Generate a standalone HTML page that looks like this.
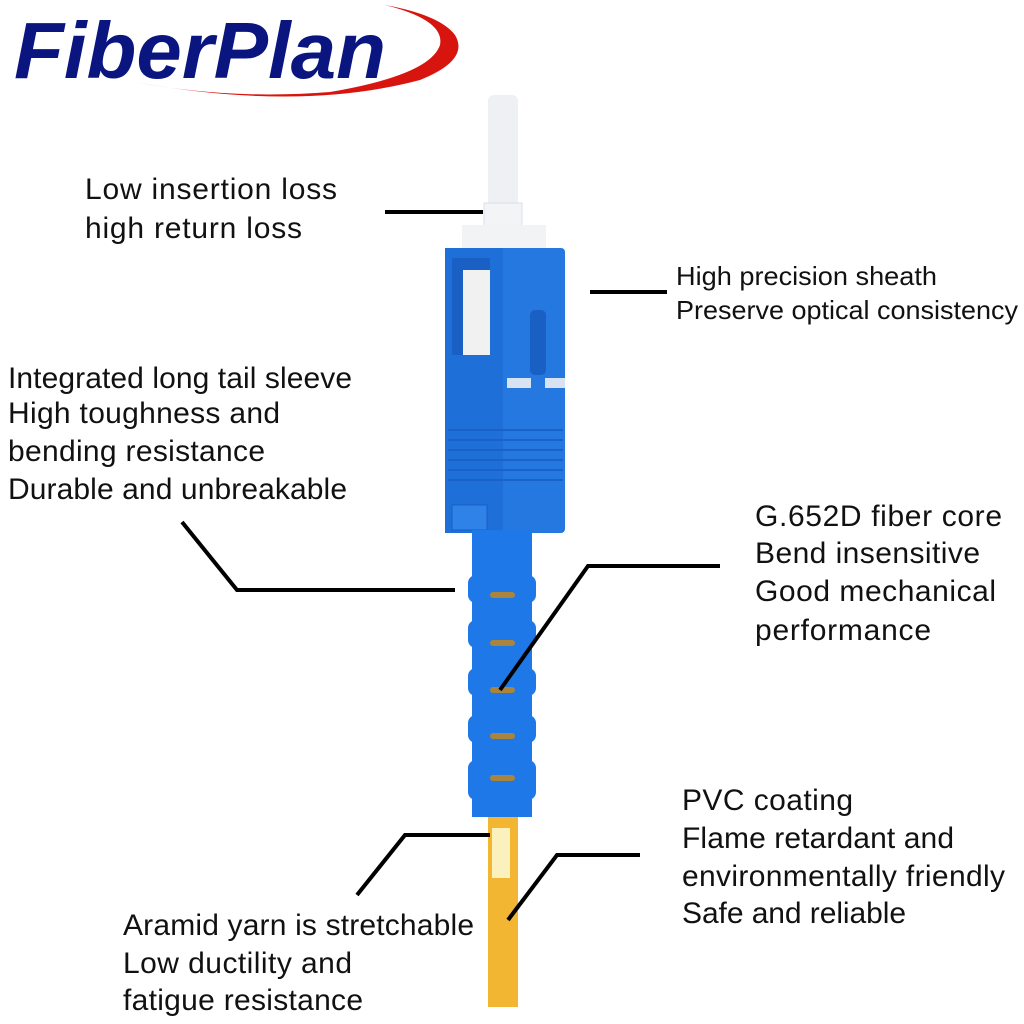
<!DOCTYPE html>
<html><head><style>
body{margin:0;background:#fff;}
svg{display:block}
text{font-family:"Liberation Sans",sans-serif;fill:#111;}
</style></head><body>
<svg width="1024" height="1024" viewBox="0 0 1024 1024" xmlns="http://www.w3.org/2000/svg">
<rect width="1024" height="1024" fill="#fff"/>
<path d="M135 82 Q300 112 420 80 Q470 60 455 35 Q440 15 385 5 Q445 20 440 45 Q430 75 330 92 Q230 100 135 82Z" fill="#d8140f"/>
<text x="14" y="78" font-size="80" font-weight="bold" font-style="italic" style="fill:#0b1580" textLength="372" lengthAdjust="spacingAndGlyphs">FiberPlan</text>
<rect x="488" y="95" width="30" height="115" rx="6" fill="#eef0f3"/>
<rect x="484" y="203" width="38" height="26" fill="#f3f4f6" stroke="#dde" />
<rect x="462" y="225" width="84" height="26" fill="#f2f3f5"/>
<rect x="445" y="248" width="120" height="285" rx="4" fill="#2478e0"/>
<rect x="445" y="248" width="58" height="285" fill="#1f6fd8"/>
<path d="M452 258 L490 258 L490 355 L452 355Z" fill="#1a5fc4"/>
<rect x="463" y="270" width="27" height="85" fill="#f1f1f1"/>
<rect x="530" y="310" width="16" height="65" rx="5" fill="#1a5fc4"/>
<rect x="507" y="378" width="24" height="10" fill="#d7e3f2"/>
<rect x="545" y="378" width="20" height="10" fill="#d7e3f2"/>
<g stroke="#1a62c8" stroke-width="2">
<line x1="448" y1="430" x2="563" y2="430"/><line x1="448" y1="440" x2="563" y2="440"/>
<line x1="448" y1="450" x2="563" y2="450"/><line x1="448" y1="460" x2="563" y2="460"/>
<line x1="448" y1="470" x2="563" y2="470"/><line x1="448" y1="480" x2="563" y2="480"/>
</g>
<rect x="452" y="505" width="35" height="25" fill="#2e82e8" stroke="#1a5fc4"/>
<path d="M472 530 H532 V817 H472Z" fill="#1f78e8"/>
<g fill="#1f78e8">
<rect x="468" y="575" width="68" height="28" rx="8"/><rect x="468" y="620" width="68" height="28" rx="8"/>
<rect x="468" y="668" width="68" height="28" rx="8"/><rect x="468" y="715" width="68" height="28" rx="8"/>
<rect x="468" y="760" width="68" height="40" rx="8"/>
</g>
<g fill="#a8843c">
<rect x="490" y="592" width="25" height="6" rx="3"/><rect x="490" y="640" width="25" height="6" rx="3"/>
<rect x="490" y="687" width="25" height="6" rx="3"/><rect x="490" y="733" width="25" height="6" rx="3"/>
<rect x="490" y="775" width="25" height="6" rx="3"/>
</g>
<rect x="488" y="817" width="30" height="190" fill="#f2b632"/>
<rect x="492" y="828" width="18" height="50" fill="#fbf1bd"/>
<g stroke="#000" stroke-width="4" fill="none">
<line x1="385" y1="212" x2="483" y2="212"/>
<line x1="590" y1="292" x2="667" y2="292"/>
<polyline points="182,522 237,590 455,590"/>
<polyline points="720,566 588,566 500,690"/>
<polyline points="357,895 405,835 490,835"/>
<polyline points="640,855 557,855 508,920"/>
</g>
<g font-size="30" lengthAdjust="spacingAndGlyphs">
<text x="85" y="199" textLength="252">Low insertion loss</text>
<text x="85" y="238" textLength="217">high return loss</text>
<text x="8" y="388" textLength="344">Integrated long tail sleeve</text>
<text x="8" y="423" textLength="272">High toughness and</text>
<text x="8" y="461" textLength="257">bending resistance</text>
<text x="8" y="499" textLength="339">Durable and unbreakable</text>
<text x="755" y="526" textLength="247">G.652D fiber core</text>
<text x="755" y="563" textLength="225">Bend insensitive</text>
<text x="755" y="601" textLength="241">Good mechanical</text>
<text x="755" y="640" textLength="176">performance</text>
<text x="682" y="810" textLength="171">PVC coating</text>
<text x="682" y="848" textLength="272">Flame retardant and</text>
<text x="682" y="886" textLength="323">environmentally friendly</text>
<text x="682" y="923" textLength="224">Safe and reliable</text>
<text x="123" y="935" textLength="351">Aramid yarn is stretchable</text>
<text x="123" y="973" textLength="229">Low ductility and</text>
<text x="123" y="1010" textLength="240">fatigue resistance</text>
</g>
<g font-size="26">
<text x="676" y="285" textLength="261" lengthAdjust="spacingAndGlyphs">High precision sheath</text>
<text x="676" y="319" textLength="342" lengthAdjust="spacingAndGlyphs">Preserve optical consistency</text>
</g>
</svg>
</body></html>
